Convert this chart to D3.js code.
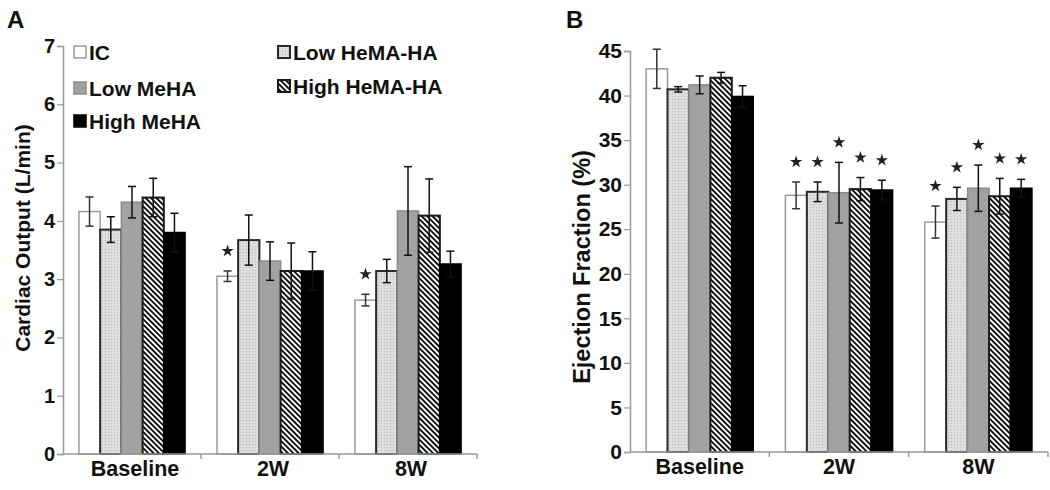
<!DOCTYPE html>
<html><head><meta charset="utf-8">
<script src="https://cdn.jsdelivr.net/npm/d3@7"></script>
<style>body{margin:0;background:#fff}svg{display:block}text{font-family:"Liberation Sans",Arial,sans-serif;font-weight:bold;fill:#111}</style>
</head><body>
<svg id="c" width="1050" height="490"></svg>
<script>
// ---- data ----
const groups = ["Baseline", "2W", "8W"];
const series = ["IC", "Low HeMA-HA", "Low MeHA", "High HeMA-HA", "High MeHA"];
// Cardiac output (L/min), per series, per group
const coIC = [4.16, 3.05, 2.64];
const coLowHeMA = [3.85, 3.67, 3.14];
const coLowMeHA = [4.32, 3.31, 4.17];
const coHighHeMA = [4.40, 3.14, 4.09];
const coHighMeHA = [3.80, 3.14, 3.26];
const coErrIC = [0.25, 0.09, 0.10];
const coErrLowHeMA = [0.22, 0.43, 0.20];
const coErrLowMeHA = [0.27, 0.33, 0.76];
const coErrHighHeMA = [0.33, 0.48, 0.63];
const coErrHighMeHA = [0.33, 0.33, 0.22];
const coSigIC = [0, 1, 1];
const coSigOther = [0, 0, 0];
// Ejection fraction (%)
const efIC = [43.0, 28.8, 25.8];
const efLowHeMA = [40.7, 29.2, 28.4];
const efLowMeHA = [41.2, 29.1, 29.6];
const efHighHeMA = [42.0, 29.5, 28.7];
const efHighMeHA = [39.9, 29.4, 29.6];
const efErrIC = [2.2, 1.5, 1.8];
const efErrLowHeMA = [0.3, 1.1, 1.3];
const efErrLowMeHA = [1.0, 3.4, 2.6];
const efErrHighHeMA = [0.6, 1.3, 2.0];
const efErrHighMeHA = [1.2, 1.1, 1.0];
const efSig = [0, 1, 1];
const coTicks = [0, 1, 2, 3, 4, 5, 6, 7];
const efTicks = [0, 5, 10, 15, 20, 25, 30, 35, 40, 45];
const legendOrder = ["IC", "Low HeMA-HA", "Low MeHA", "High HeMA-HA", "High MeHA"];

const coMeans = [coIC, coLowHeMA, coLowMeHA, coHighHeMA, coHighMeHA];
const coErrs = [coErrIC, coErrLowHeMA, coErrLowMeHA, coErrHighHeMA, coErrHighMeHA];
const coSigs = [coSigIC, coSigOther, coSigOther, coSigOther, coSigOther];
const efMeans = [efIC, efLowHeMA, efLowMeHA, efHighHeMA, efHighMeHA];
const efErrs = [efErrIC, efErrLowHeMA, efErrLowMeHA, efErrHighHeMA, efErrHighMeHA];
const efSigs = [efSig, efSig, efSig, efSig, efSig];

const svg = d3.select("#c");
const defs = svg.append("defs");
// hatch pattern
const hp = defs.append("pattern").attr("id", "hatch").attr("patternUnits", "userSpaceOnUse")
  .attr("width", 3.8).attr("height", 3.8).attr("patternTransform", "rotate(-45)");
hp.append("rect").attr("width", 3.8).attr("height", 3.8).attr("fill", "#fff");
hp.append("rect").attr("width", 1.9).attr("height", 3.8).attr("fill", "#111");
// dotted pattern
const dp = defs.append("pattern").attr("id", "dots").attr("patternUnits", "userSpaceOnUse")
  .attr("width", 3).attr("height", 3);
dp.append("rect").attr("width", 3).attr("height", 3).attr("fill", "#dedede");
dp.append("rect").attr("width", 1).attr("height", 1).attr("fill", "#b8b8b8");

const styles = {
  "IC": {fill: "#fff", stroke: "#9a9a9a", sw: 1.5},
  "Low HeMA-HA": {fill: "url(#dots)", stroke: "#2a2a2a", sw: 2},
  "Low MeHA": {fill: "#a2a2a2", stroke: "#8a8a8a", sw: 1.5},
  "High HeMA-HA": {fill: "url(#hatch)", stroke: "#1a1a1a", sw: 2},
  "High MeHA": {fill: "#000", stroke: "#000", sw: 1.5}
};

function panel(opt) {
  const g = svg.append("g");
  const y = d3.scaleLinear().domain([0, opt.max]).range([opt.y0, opt.y1]);
  const x0 = d3.scaleBand().domain(groups).range([opt.x0, opt.x1]).paddingInner(0).paddingOuter(0);
  const x1 = d3.scaleBand().domain(series).range([0, x0.bandwidth()]).paddingInner(0).paddingOuter(0.75);

  // axes
  const ya = g.append("g").attr("transform", `translate(${opt.x0},0)`)
    .call(d3.axisLeft(y).tickValues(opt.ticks).tickSize(6).tickPadding(2).tickFormat(d3.format("d")));
  ya.select(".domain").attr("stroke", "#999").attr("stroke-width", 1.5);
  ya.selectAll(".tick line").attr("stroke", "#999").attr("stroke-width", 1.2);
  ya.selectAll(".tick text").style("font-size", opt.tickFs + "px").attr("fill", "#111");

  // bars
  series.forEach((s, si) => {
    const st = styles[s];
    groups.forEach((gr, gi) => {
      const v = opt.means[si][gi];
      const bx = x0(gr) + x1(s);
      g.append("rect").attr("x", bx).attr("y", y(v)).attr("width", x1.bandwidth()).attr("height", y(0) - y(v))
        .attr("fill", st.fill).attr("stroke", st.stroke).attr("stroke-width", st.sw);
    });
  });
  // error bars
  series.forEach((s, si) => {
    groups.forEach((gr, gi) => {
      const v = opt.means[si][gi], e = opt.errs[si][gi];
      const cx = x0(gr) + x1(s) + x1.bandwidth() / 2;
      const col = s === "IC" ? "#333" : "#111";
      const eg = g.append("g").attr("stroke", col).attr("stroke-width", 1.5);
      eg.append("line").attr("x1", cx).attr("x2", cx).attr("y1", y(v - e)).attr("y2", y(v + e));
      eg.append("line").attr("x1", cx - 4).attr("x2", cx + 4).attr("y1", y(v - e)).attr("y2", y(v - e));
      eg.append("line").attr("x1", cx - 4).attr("x2", cx + 4).attr("y1", y(v + e)).attr("y2", y(v + e));
      if (opt.sigs[si][gi]) {
        g.append("path").attr("d", d3.symbol().type(d3.symbolStar).size(48)())
          .attr("transform", `translate(${cx},${y(v + e) - 20})`).attr("fill", "#222");
      }
    });
  });
  // x axis
  const xa = g.append("g").attr("stroke", "#999").attr("stroke-width", 1.5);
  xa.append("line").attr("x1", opt.x0).attr("x2", opt.x1).attr("y1", y(0)).attr("y2", y(0));
  groups.forEach(gr => {
    const xe = x0(gr) + x0.bandwidth();
    xa.append("line").attr("x1", xe).attr("x2", xe).attr("y1", y(0)).attr("y2", y(0) + 5);
    g.append("text").attr("x", x0(gr) + x0.bandwidth() / 2 + opt.labelDx).attr("y", y(0) + 22)
      .attr("text-anchor", "middle").style("font-size", "21.5px").text(gr);
  });
  // y title
  g.append("text").attr("transform", `translate(${opt.titleX},${(opt.tY)}) rotate(-90)`)
    .attr("text-anchor", "middle").style("font-size", opt.titleFs + "px").attr("fill", "#222").text(opt.title);
  // panel letter
  g.append("text").attr("x", opt.letterX).attr("y", 28).style("font-size", "24px").text(opt.letter);
  return g;
}

panel({x0: 63, x1: 477, y0: 454, y1: 46, max: 7, ticks: coTicks, means: coMeans, errs: coErrs, sigs: coSigs,
  title: "Cardiac Output (L/min)", titleX: 30, tY: 238, titleFs: 21, tickFs: 20, letter: "A", letterX: 7, labelDx: 3});
panel({x0: 630, x1: 1048, y0: 452, y1: 51, max: 45, ticks: efTicks, means: efMeans, errs: efErrs, sigs: efSigs,
  title: "Ejection Fraction (%)", titleX: 590, tY: 267, titleFs: 23.5, tickFs: 21, letter: "B", letterX: 566, labelDx: 0});

// legend (panel A)
const legPos = {"IC": [74, 52], "Low HeMA-HA": [278, 52], "Low MeHA": [74, 88], "High HeMA-HA": [278, 86], "High MeHA": [74, 121]};
legendOrder.forEach(s => {
  const st = styles[s];
  const [lx, ly] = legPos[s];
  svg.append("rect").attr("x", lx).attr("y", ly - 6).attr("width", 12).attr("height", 12)
    .attr("fill", st.fill).attr("stroke", st.stroke).attr("stroke-width", st.sw);
  svg.append("text").attr("x", lx + 15).attr("y", ly + 7.5).style("font-size", "21px").text(s);
});
</script>
</body></html>
